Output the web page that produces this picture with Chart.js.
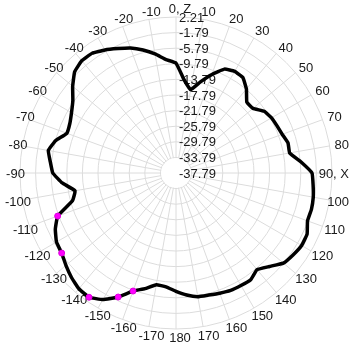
<!DOCTYPE html>
<html><head><meta charset="utf-8">
<script src="https://cdn.jsdelivr.net/npm/chart.js@4/dist/chart.umd.min.js"></script>
<style>
html,body{margin:0;padding:0;background:#fff;overflow:hidden}
#c{display:block}
</style></head><body>
<canvas id="c" width="350" height="350"></canvas>
<script>
// angle categories (degrees, clockwise from top)
const angles = [0,5,10,15,20,25,30,35,40,45,50,55,60,65,70,75,80,85,90,95,100,105,110,115,120,125,130,135,140,145,150,155,160,165,170,175,180,
  -175,-170,-165,-160,-155,-150,-145,-140,-135,-130,-125,-120,-115,-110,-105,-100,-95,-90,-85,-80,-75,-70,-65,-60,-55,-50,-45,-40,-35,-30,-25,-20,-15,-10,-5];
// measured values
const values = [-9.6,-13.8,-16.1,-13.6,-10.9,-8.4,-7.7,-7.9,-9.7,-12.1,-12.0,-10.2,-9.5,-9.2,-8.8,-8.05,-8.2,-5.6,-2.92,-2.5,-2.05,-1.84,-1.9,-0.7,-0.6,-1.15,-1.85,-3.9,-5.45,-4.4,-4.5,-4.6,-5.0,-5.4,-5.6,-6.4,-7.45,
  -8.5,-8.7,-7.1,-5.58,-2.7,-0.3,1.1,0.95,0.1,-0.95,-2.0,-2.4,-3.65,-5.5,-10.3,-11.5,-8.5,-6.2,-5.45,-4.55,-5.8,-8.0,-7.75,-6.85,-5.5,-3.2,-1.05,-0.2,-0.3,-1.35,-2.6,-3.7,-5.15,-6.8,-8.6];
// angle labels shown every 10 degrees
const angleLabelAngles = [0,10,20,30,40,50,60,70,80,90,100,110,120,130,140,150,160,170,180,-170,-160,-150,-140,-130,-120,-110,-100,-90,-80,-70,-60,-50,-40,-30,-20,-10];
const angleLabelTexts = ['0, Z','10','20','30','40','50','60','70','80','90, X','100','110','120','130','140','150','160','170','180','-170','-160','-150','-140','-130','-120','-110','-100','-90','-80','-70','-60','-50','-40','-30','-20','-10'];
// radial ticks
const radialTicks = [-37.79,-33.79,-29.79,-25.79,-21.79,-17.79,-13.79,-9.79,-5.79,-1.79,2.21];
const radialTickLabels = ['-37.79','-33.79','-29.79','-25.79','-21.79','-17.79','-13.79','-9.79','-5.79','-1.79','2.21'];
// highlighted (marked) points
const markedAngles = [-110,-125,-145,-155,-160];

const FONT = '13px "Liberation Sans", Arial, sans-serif';
const TEXT = '#1a1a1a';
const GRID = '#dcdcdc';

const labelPlugin = {
  id: 'polarLabels',
  beforeDatasetsDraw(chart) {
    const s = chart.scales.r, c = chart.ctx;
    c.save();
    // keep the innermost ring clear of spokes
    const d1 = s.getDistanceFromCenterForValue(radialTicks[1]);
    c.fillStyle = '#fff';
    c.beginPath();
    c.arc(s.xCenter, s.yCenter, d1 - 0.6, 0, Math.PI * 2);
    c.fill();
    c.font = FONT;
    c.fillStyle = TEXT;
    c.textAlign = 'left';
    c.textBaseline = 'middle';
    radialTicks.forEach((v, i) => {
      const d = s.getDistanceFromCenterForValue(v);
      c.fillText(radialTickLabels[i], s.xCenter + 3, s.yCenter - d + 1);
    });
    c.textAlign = 'center';
    angleLabelAngles.forEach((a, k) => {
      const idx = angles.indexOf(a);
      const p = s.getPointPosition(idx, s.drawingArea + 8.5);
      const t = angleLabelTexts[k];
      const w = c.measureText(t).width;
      let x = p.x + 4;
      if (x + w / 2 > chart.width - 1) x = chart.width - 1 - w / 2;
      if (x - w / 2 < 1) x = 1 + w / 2;
      c.fillText(t, x, p.y + 1);
    });
    c.restore();
  }
};

new Chart(document.getElementById('c'), {
  type: 'radar',
  data: {
    labels: angles.map(String),
    datasets: [{
      data: values,
      borderColor: '#000',
      borderWidth: 3.5,
      fill: false,
      tension: 0.1,
      pointRadius: ctx => markedAngles.includes(angles[ctx.dataIndex]) ? 3 : 0,
      pointBackgroundColor: '#ff00ff',
      pointBorderColor: '#e000e0',
      pointBorderWidth: 1
    }]
  },
  options: {
    responsive: false,
    animation: false,
    devicePixelRatio: 1,
    layout: { padding: { left: 20, right: 18, top: 17, bottom: 21 } },
    plugins: { legend: { display: false }, tooltip: { enabled: false } },
    scales: {
      r: {
        min: -37.79,
        max: 2.21,
        afterBuildTicks: axis => { axis.ticks = radialTicks.map(v => ({ value: v })); },
        ticks: { display: false },
        grid: { circular: true, color: GRID, lineWidth: 1 },
        angleLines: {
          color: ctx => (ctx.index % 2 === 0 ? GRID : 'rgba(0,0,0,0)'),
          lineWidth: ctx => (ctx.index % 2 === 0 ? 1 : 0)
        },
        pointLabels: { display: false }
      }
    }
  },
  plugins: [labelPlugin]
});
</script>
</body></html>
